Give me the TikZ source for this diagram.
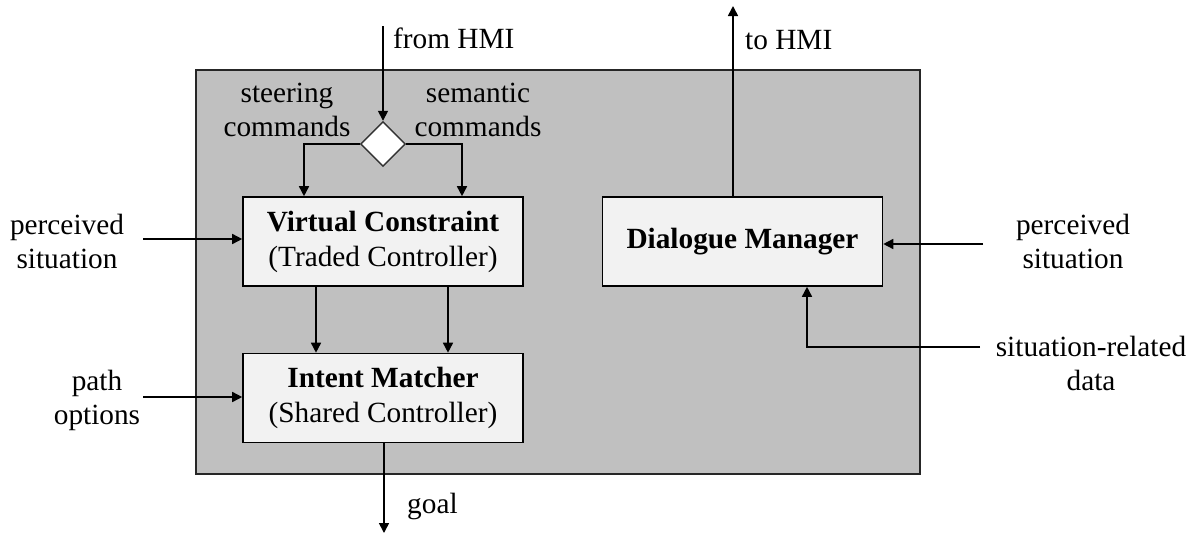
\documentclass[tikz,border=0pt]{standalone}
\usepackage{fontspec}
\setmainfont{Liberation Serif}
\usetikzlibrary{shapes.geometric,arrows.meta}
\begin{document}
\begin{tikzpicture}[x=1pt,y=-1pt,
  txt/.style={align=center,inner sep=0pt,font=\fontsize{29.3}{34}\selectfont},
  blk/.style={draw=black,line width=1.6pt,fill=boxfill,minimum width=280pt,minimum height=89pt,align=center,inner sep=0pt,font=\fontsize{29.3}{35}\selectfont},
  conn/.style={line width=1.6pt,-{Triangle[length=10pt,width=10pt]}},
  plain/.style={line width=1.6pt}]
\definecolor{boxfill}{HTML}{F2F2F2}
\definecolor{panel}{HTML}{C0C0C0}
\useasboundingbox (0,0) rectangle (1192,533);
\fill[panel,draw=black!85,line width=1.4pt] (196,70) rectangle (920,474);
\node[blk] (vc) at (383,241.5) {\textbf{Virtual Constraint}\\(Traded Controller)};
\node[blk] (im) at (383,398) {\textbf{Intent Matcher}\\(Shared Controller)};
\node[blk] (dm) at (742.5,241.5) {\textbf{Dialogue Manager}};
\node[diamond,draw=black!80,line width=1.4pt,fill=white,minimum width=45pt,minimum height=45pt,inner sep=0pt] (dia) at (383,144) {};
\coordinate (fromtop) at (383,26);
\coordinate (totop) at (733,6);
\coordinate (goalend) at (384,533);
\coordinate (lps) at (143,239);
\coordinate (lpo) at (143,397);
\coordinate (rps) at (983,244);
\coordinate (rsr) at (980,347);
\node[txt,anchor=west] (tfrom) at (393,38) {from HMI};
\node[txt,anchor=west] (tto) at (745,40) {to HMI};
\node[txt,anchor=west] (tgoal) at (407,506) {goal};
\node[txt] (tsteer) at (287,110) {steering\\commands};
\node[txt] (tsem) at (478,110) {semantic\\commands};
\node[txt] (tlps) at (67,241) {perceived\\situation};
\node[txt] (tlpo) at (97,400) {path\\options};
\node[txt] (trps) at (1073,241) {perceived\\situation};
\node[txt] (trsr) at (1091,363) {situation-related\\data};
\draw[conn] (fromtop) -- (dia.north);
\draw[conn] (dia.west) -| (vc.north -| 304,0);
\draw[conn] (dia.east) -| (vc.north -| 462,0);
\draw[conn] (vc.south -| 316,0) -- (im.north -| 316,0);
\draw[conn] (vc.south -| 448,0) -- (im.north -| 448,0);
\draw[conn] (im.south -| goalend) -- (goalend);
\draw[conn] (dm.north -| totop) -- (totop);
\draw[conn] (lps) -- (lps -| vc.west);
\draw[conn] (lpo) -- (lpo -| im.west);
\draw[conn] (rps) -- (rps -| dm.east);
\draw[conn] (rsr) -| (dm.south -| 807,0);
\end{tikzpicture}
\end{document}
